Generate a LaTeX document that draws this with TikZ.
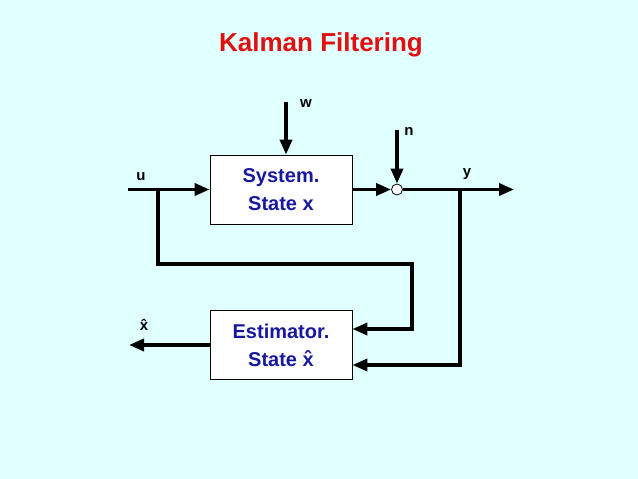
\documentclass[tikz,border=0pt]{standalone}
\usepackage{fontspec}
\setmainfont{Liberation Sans}
\usepackage{tikz}
\usetikzlibrary{positioning,calc,arrows.meta}
\definecolor{bgcyan}{RGB}{224,255,255}
\definecolor{titlered}{RGB}{224,16,16}
\definecolor{boxblue}{RGB}{24,24,160}

\begin{document}
\begin{tikzpicture}[
	x=1pt, y=-1pt,
	block/.style={ % khoi he thong / uoc luong
		draw=black, fill=white, line width=0.8pt,
		minimum width=142pt, minimum height=69pt,
		align=center, text=boxblue,
		font=\fontsize{20}{28}\selectfont\bfseries
	},
	sig/.style={ % duong tin hieu
		line width=3.5pt,
		-{Triangle[length=15pt,width=12pt]}
	},
	wire/.style={ % duong khong co mui ten
		line width=3.5pt
	},
	lbl/.style={
		font=\fontsize{15}{16}\selectfont\bfseries
	}
	]
	
	% nen
	\fill[bgcyan] (0,0) rectangle (638,479);
	\useasboundingbox (0,0) rectangle (638,479);
	
	% tieu de
	\node[text=titlered, font=\fontsize{26}{30}\selectfont\bfseries] (title) at (321,45) {Kalman Filtering};
	
	% ================= KHOI =================
	\node[block] (sys) at (281,189.5) {System.\\State x};
	\node[block] (est) at (281,345) {Estimator.\\State \^{x}};
	\node[draw, fill=white, circle, line width=0.8pt, minimum size=11pt, inner sep=0pt] (sum) at (397,189.5) {};
	
	% diem noi
	\coordinate (uin)  at (128,189.5);
	\coordinate (ubr)  at (158,189.5);
	\coordinate (ucn)  at (412,264);
	\coordinate (win)  at (286,102);
	\coordinate (nin)  at (397,130);
	\coordinate (ybr)  at (460,189.5);
	\coordinate (yout) at (514,189.5);
	\coordinate (xout) at (129,345);
	
	% ================= TIN HIEU =================
	\draw[sig] (uin) -- (sys.west);
	\draw[sig] (win) -- (win |- sys.north);
	\draw[sig] (sys.east) -- (sum.west);
	\draw[sig] (nin) -- (sum.north);
	\draw[sig] (sum.east) -- (yout);
	
	% hoi tiep ve bo uoc luong
	\draw[sig] (ubr) |- (ucn) |- ($(est.east)+(0,-16)$);
	\draw[sig] (ybr) |- ($(est.east)+(0,20)$);
	\draw[sig] (est.west) -- (xout);
	
	% nhan
	\node[lbl] (ulbl) at (141,177) {u};
	\node[lbl] (wlbl) at (306,104) {w};
	\node[lbl] (nlbl) at (409,131) {n};
	\node[lbl] (ylbl) at (467,174) {y};
	\node[lbl] (xlbl) at (144,325) {\^{x}};
	
\end{tikzpicture}
\end{document}
